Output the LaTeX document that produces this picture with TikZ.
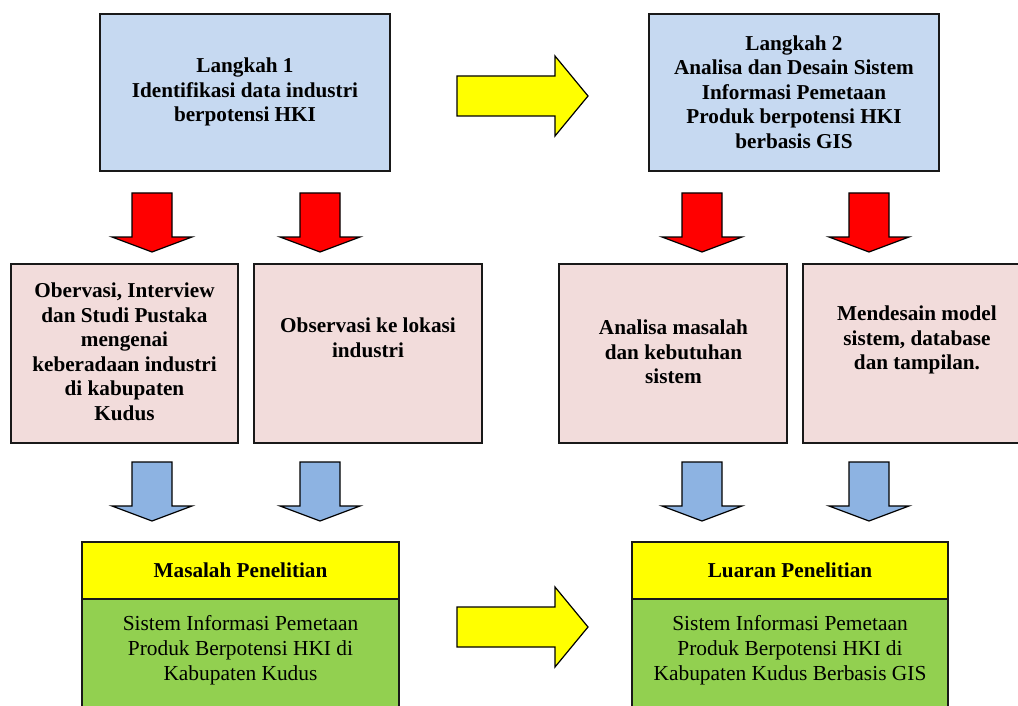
\documentclass[tikz,border=0pt]{standalone}
\usepackage{fontspec}
\setmainfont{Liberation Serif}

\definecolor{birumuda}{HTML}{C6D9F1}
\definecolor{merahmuda}{HTML}{F2DCDB}
\definecolor{birupanah}{HTML}{8DB3E2}
\definecolor{hijau}{HTML}{92D050}
\definecolor{kuning}{HTML}{FFFF00}
\definecolor{merah}{HTML}{FF0000}

\newcommand{\panahturun}[3]{%
  \draw[panah,fill=#3] (#1-20,#2) -- (#1+20,#2) -- (#1+20,#2+44) -- (#1+40,#2+44)
    -- (#1,#2+59) -- (#1-40,#2+44) -- (#1-20,#2+44) -- cycle;}
\newcommand{\panahkanan}[1]{%
  \draw[panah,fill=kuning] (457,#1-20) -- (555,#1-20) -- (555,#1-40) -- (588,#1)
    -- (555,#1+40) -- (555,#1+20) -- (457,#1+20) -- cycle;}

\begin{document}
\begin{tikzpicture}[x=1pt,y=-1pt,
  kotak/.style={draw=black!90,line width=1.6pt},
  panah/.style={draw=black,line width=1.2pt,line join=miter},
  teks/.style={align=center,inner sep=0pt,font=\fontsize{21.2}{24.5}\selectfont\bfseries},
  isi/.style={align=center,inner sep=0pt,font=\fontsize{21.4}{25}\selectfont}]
  \clip (0,0) rectangle (1018,706);

  % langkah
  \draw[kotak,fill=birumuda] (100,14) rectangle (390,171);
  \draw[kotak,fill=birumuda] (649,14) rectangle (939,171);
  \node[teks] (langkah1) at (245,92) {Langkah 1\\Identifikasi data industri\\berpotensi HKI};
  \node[teks] (langkah2) at (794,92) {Langkah 2\\Analisa dan Desain Sistem\\Informasi Pemetaan\\Produk berpotensi HKI\\berbasis GIS};

  \panahkanan{96}

  \panahturun{152}{193}{merah}
  \panahturun{320}{193}{merah}
  \panahturun{702}{193}{merah}
  \panahturun{869}{193}{merah}

  % kegiatan
  \draw[kotak,fill=merahmuda] (11,264) rectangle (238,443);
  \draw[kotak,fill=merahmuda] (254,264) rectangle (482,443);
  \draw[kotak,fill=merahmuda] (559,264) rectangle (787,443);
  \draw[kotak,fill=merahmuda] (803,264) rectangle (1030,443);
  \node[teks] (observasi) at (124.5,352) {Obervasi, Interview\\dan Studi Pustaka\\mengenai\\keberadaan industri\\di kabupaten\\Kudus};
  \node[teks] (lokasi) at (368,338) {Observasi ke lokasi\\industri};
  \node[teks] (analisa) at (673.5,352) {Analisa masalah\\dan kebutuhan\\sistem};
  \node[teks] (desain) at (917,340) {Mendesain model\\sistem, database\\dan tampilan.};

  \panahturun{152}{462}{birupanah}
  \panahturun{320}{462}{birupanah}
  \panahturun{702}{462}{birupanah}
  \panahturun{869}{462}{birupanah}

  % hasil
  \draw[kotak,fill=hijau] (82,599) rectangle (399,720);
  \draw[kotak,fill=kuning] (82,542) rectangle (399,599);
  \draw[kotak,fill=hijau] (632,599) rectangle (948,720);
  \draw[kotak,fill=kuning] (632,542) rectangle (948,599);
  \node[teks] (masalah) at (240.5,570) {Masalah Penelitian};
  \node[isi] (sistem1) at (240.5,650) {Sistem Informasi Pemetaan\\Produk Berpotensi HKI di\\Kabupaten Kudus};
  \node[teks] (luaran) at (790,570) {Luaran Penelitian};
  \node[isi] (sistem2) at (790,650) {Sistem Informasi Pemetaan\\Produk Berpotensi HKI di\\Kabupaten Kudus Berbasis GIS};

  \panahkanan{627}
\end{tikzpicture}
\end{document}
